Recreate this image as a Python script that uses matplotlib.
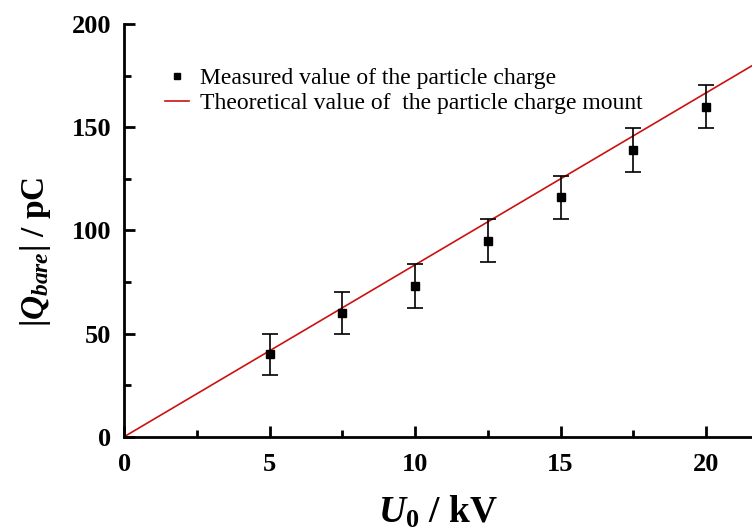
import numpy as np
import matplotlib
matplotlib.use("Agg")
import matplotlib.pyplot as plt
from matplotlib.ticker import MultipleLocator
from matplotlib.lines import Line2D

# 测量数据
u0 = [5, 7.5, 10, 12.5, 15, 17.5, 20]
q_measured = [40, 60, 73, 95, 116, 139, 160]
q_err = [10, 10, 10.5, 10.5, 10.5, 10.5, 10.5]
# 理论直线 Q = k * U0
theory_u = [0, 21.6]
theory_slope = 8.33

plt.rcParams['font.family'] = 'Liberation Serif'
plt.rcParams['mathtext.fontset'] = 'custom'
plt.rcParams['mathtext.rm'] = 'Liberation Serif:bold'
plt.rcParams['mathtext.it'] = 'Liberation Serif:italic:bold'
plt.rcParams['mathtext.bf'] = 'Liberation Serif:bold'

fig = plt.figure(figsize=(7.52, 5.32), dpi=100)
ax = fig.add_axes([0.165, 0.179, 0.835, 0.776])

ax.errorbar(u0, q_measured, yerr=q_err, fmt='s', color='black', ms=6,
            ecolor='black', elinewidth=1.2, capsize=6, capthick=1.2, zorder=3)
tx = np.array(theory_u)
ax.plot(tx, theory_slope * tx, color='#cc1111', lw=1.2, zorder=2)

ax.set_xlim(0, 21.58)
ax.set_ylim(0, 200)
ax.xaxis.set_major_locator(MultipleLocator(5))
ax.xaxis.set_minor_locator(MultipleLocator(2.5))
ax.yaxis.set_major_locator(MultipleLocator(50))
ax.yaxis.set_minor_locator(MultipleLocator(25))

for side in ['top', 'right']:
    ax.spines[side].set_visible(False)
for side in ['left', 'bottom']:
    ax.spines[side].set_linewidth(2)

ax.tick_params(which='major', direction='in', length=8, width=2,
               labelsize=19)
ax.tick_params(axis='x', which='major', pad=12)
ax.tick_params(axis='y', which='major', pad=9)
ax.tick_params(which='minor', direction='in', length=5, width=2)
for lab in ax.get_xticklabels() + ax.get_yticklabels():
    lab.set_fontweight('bold')

ax.set_xlabel(r'$U_0$ / kV', fontsize=27, fontweight='bold', labelpad=13)
ax.set_ylabel(r'$|Q_{bare}|$ / pC', fontsize=24, fontweight='bold')
ax.yaxis.set_label_coords(-0.113, 0.448)

handles = [
    Line2D([], [], ls='none', marker='s', color='black', ms=5),
    Line2D([], [], color='#cc1111', lw=1.2),
]
labels = ['Measured value of the particle charge',
          'Theoretical value of  the particle charge mount']
ax.legend(handles, labels, loc='upper left', bbox_to_anchor=(0.032, 0.945),
          frameon=False, fontsize=17, handlelength=1.0, handletextpad=0.45,
          labelspacing=0.15, numpoints=1)

fig.savefig('out.png', dpi=100)
